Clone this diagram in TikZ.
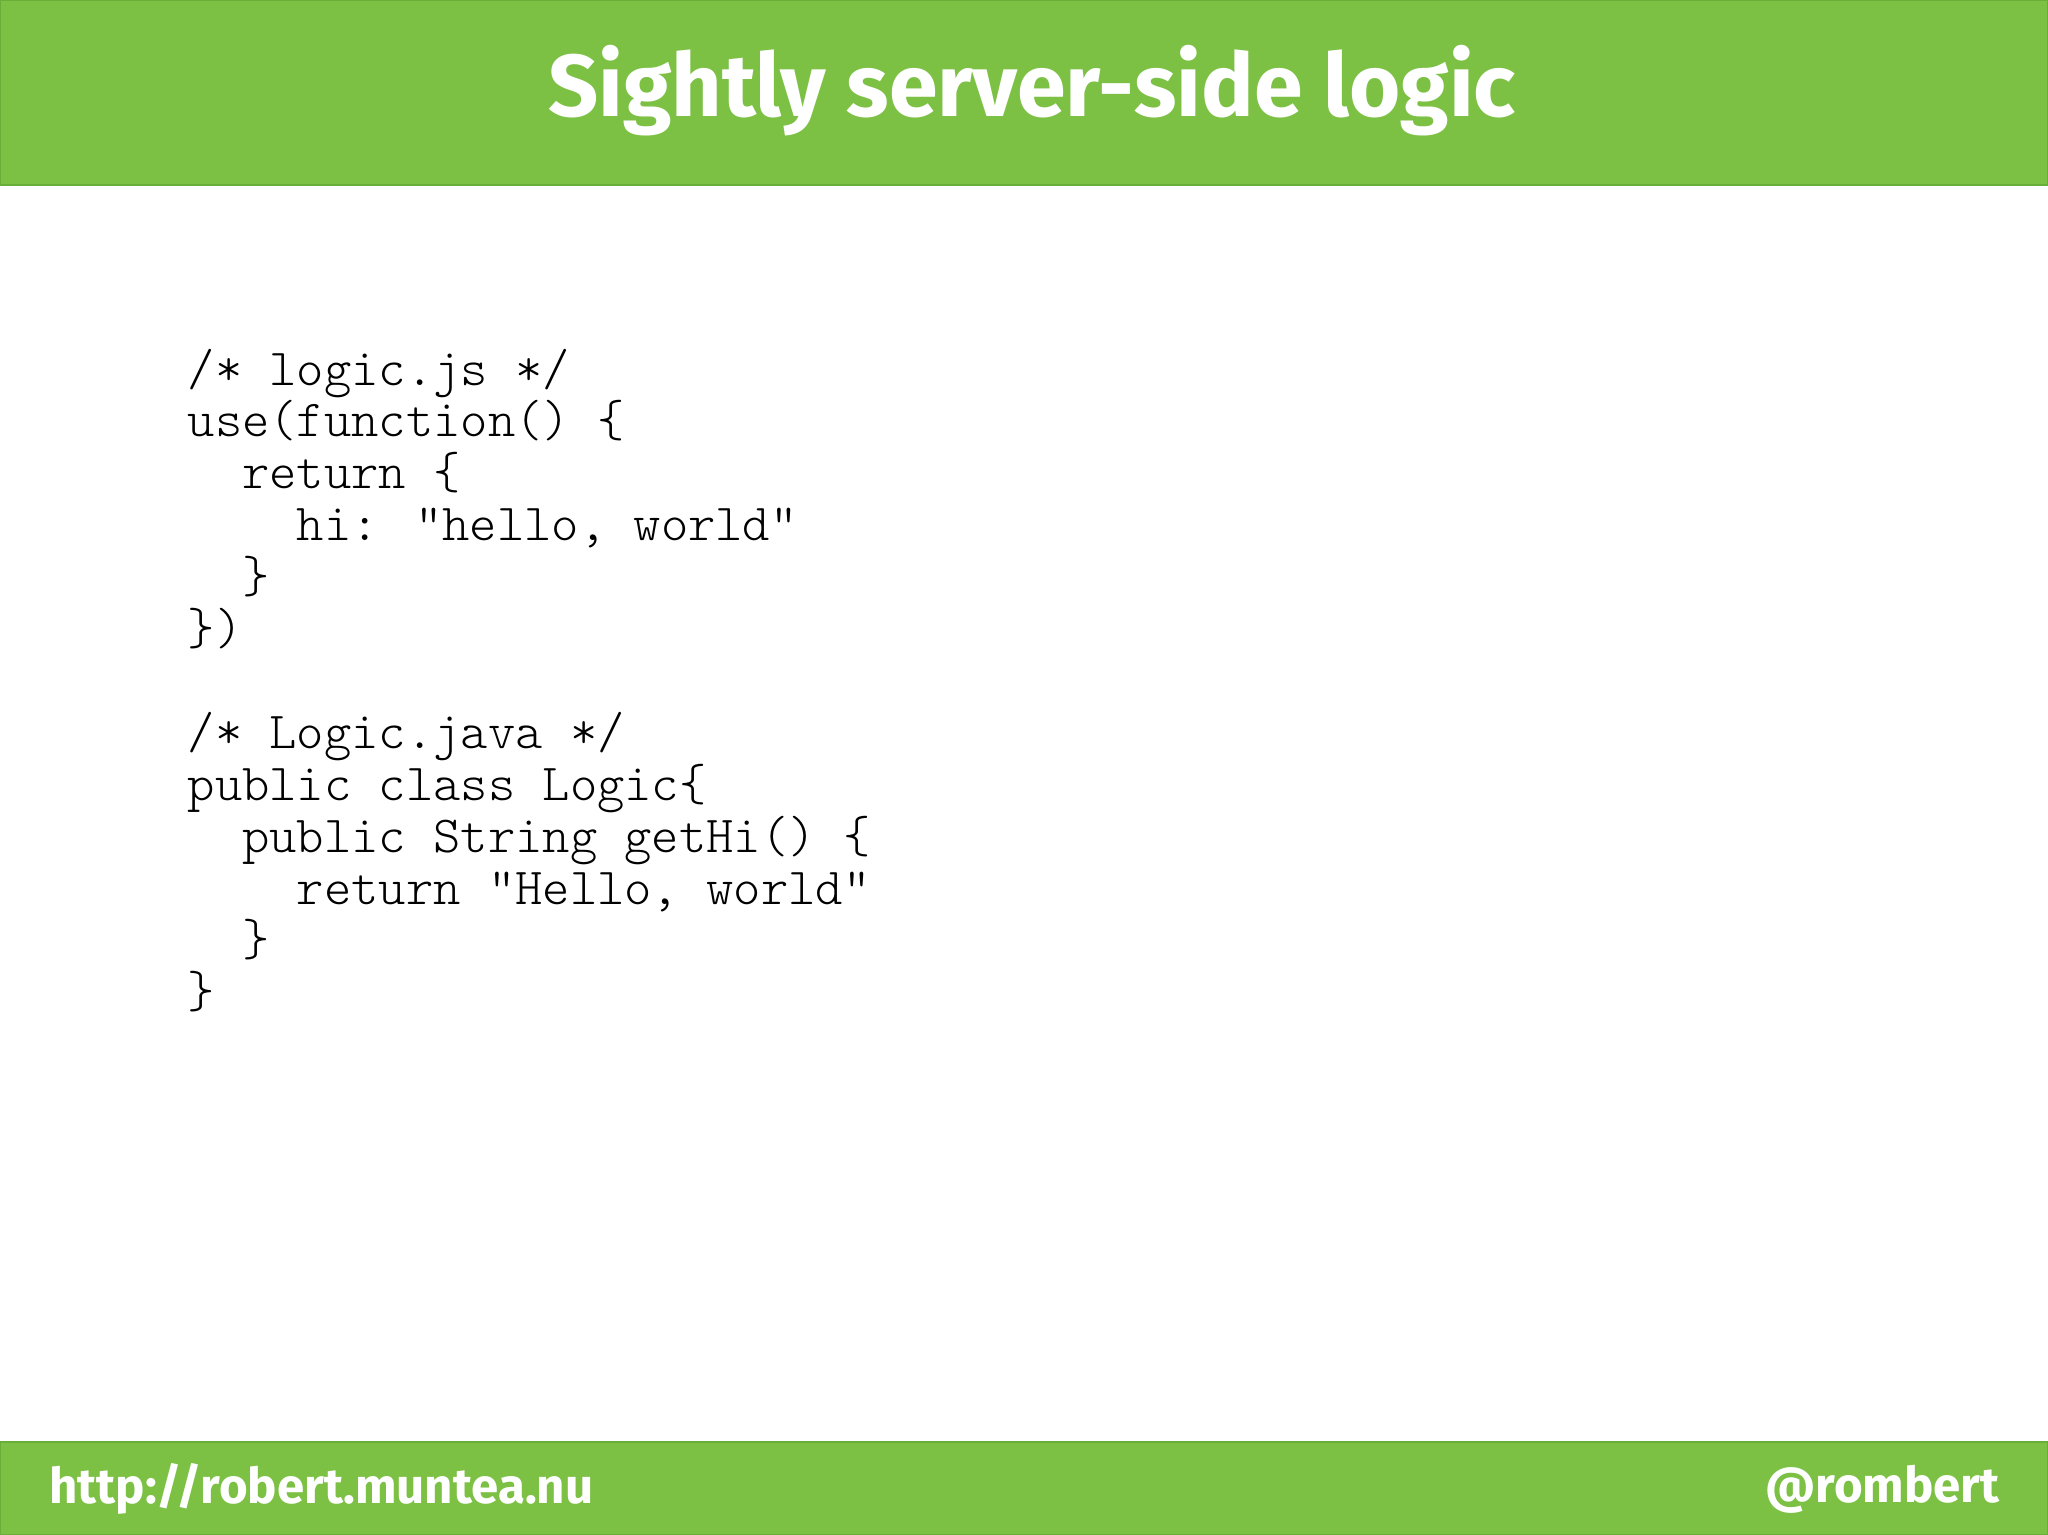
\documentclass[tikz,border=0pt]{standalone}
\usepackage{fontspec}
\setmainfont{Fira Sans}
\newfontfamily\codefont{Latin Modern Mono Light}
\definecolor{bar}{HTML}{7CC144}
\definecolor{barline}{HTML}{6AAE3A}
\begin{document}
\begin{tikzpicture}[x=1cm,y=-1cm,
  codeline/.style={anchor=base west,inner sep=0pt,font=\codefont\fontsize{14.8}{14.8}\selectfont},
  bartext/.style={text=white,font=\bfseries\fontsize{14}{14}\selectfont}]
\useasboundingbox (0,0) rectangle (20.48,15.35);
\fill[white] (0,0) rectangle (20.48,15.35);
\fill[bar,draw=barline] (0,0) rectangle (20.48,1.85);
\fill[bar,draw=barline] (0,14.42) rectangle (20.48,15.35);
\node[bartext,font=\bfseries\fontsize{25}{25}\selectfont] (title) at (10.32,0.91) {Sightly server-side logic};
\node[bartext,anchor=west] (url) at (0.37,14.89) {http://robert.muntea.nu};
\node[bartext,anchor=east] (tw) at (20.12,14.89) {@rombert};
\def\ln{0.519}
\node[codeline] (c0) at (1.87,3.85) {/* logic.js */};
\node[codeline] (c1) at (1.87,3.85+1*\ln) {use(function() \{};
\node[codeline] (c2) at (1.87,3.85+2*\ln) {\ \ return \{};
\node[codeline] (c3) at (1.87,3.85+3*\ln) {\ \ \ \ hi: “hello, world”};
\node[codeline] (c4) at (1.87,3.85+4*\ln) {\ \ \}};
\node[codeline] (c5) at (1.87,3.85+5*\ln) {\})};
\node[codeline] (c7) at (1.87,3.85+7*\ln) {/* Logic.java */};
\node[codeline] (c8) at (1.87,3.85+8*\ln) {public class Logic\{};
\node[codeline] (c9) at (1.87,3.85+9*\ln) {\ \ public String getHi() \{};
\node[codeline] (c10) at (1.87,3.85+10*\ln) {\ \ \ \ return “Hello, world”};
\node[codeline] (c11) at (1.87,3.85+11*\ln) {\ \ \}};
\node[codeline] (c12) at (1.87,3.85+12*\ln) {\}};
\end{tikzpicture}
\end{document}
